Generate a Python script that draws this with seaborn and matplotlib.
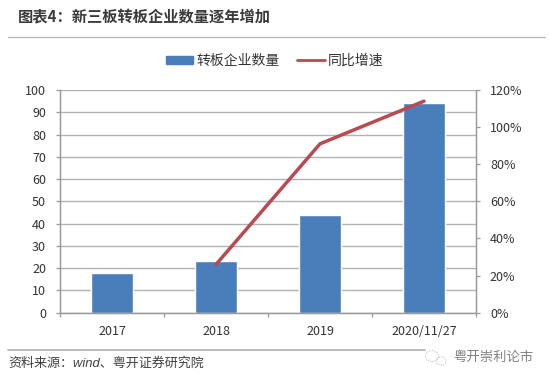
# -*- coding: utf-8 -*-
"""
图表4: bars of transfer counts plus a growth-rate line on a second axis.
"""

import numpy as np
import pandas as pd
import matplotlib.pyplot as plt
from matplotlib.lines import Line2D
from matplotlib.patches import Ellipse, Patch
import seaborn as sns

# ---- data ----
categories = ['2017', '2018', '2019', '2020/11/27']
counts = [18, 23, 44, 94]
growth = [np.nan, 26, 91, 114]
left_ticks = [0, 10, 20, 30, 40, 50, 60, 70, 80, 90, 100]
right_ticks = [0, 20, 40, 60, 80, 100, 120]
right_labels = ['0%', '20%', '40%', '60%', '80%', '100%', '120%']

bar_name = '转板企业数量'
line_name = '同比增速'
title = '图表4\uff1a新三板转板企业数量逐年增加'
source = '资料来源\uff1awind、粤开证券研究院'
watermark = '粤开崇利论市'

# ---- style ----
sns.set_theme(style='white')
plt.rcParams['font.family'] = ['Noto Sans CJK SC', 'DejaVu Sans']
W, H = 550, 381
text_col = '#333333'
grid_col = '#b2b2b2'
spine_col = '#999999'
bar_col = '#4a7ebb'
line_col = '#b84a50'

df = pd.DataFrame({'cat': categories, 'count': counts, 'growth': growth})
df['pos'] = np.arange(len(df))

fig = plt.figure(figsize=(W / 100, H / 100), dpi=100)
ax = fig.add_axes([60 / W, 1 - 312.7 / H, 416 / W, 222.7 / H])

# ---- bars ----
sns.barplot(data=df, x='cat', y='count', color=bar_col, saturation=1,
            width=0.395, ax=ax, zorder=2)
ax.set_xlim(-0.5, 3.5)
ax.set_ylim(0, 100)
ax.set_yticks(left_ticks)
ax.set_xlabel('')
ax.set_ylabel('')
ax.grid(axis='y', color=grid_col, linewidth=1, zorder=0)
ax.set_axisbelow(True)

# ---- line on the right axis ----
ax2 = ax.twinx()
sns.lineplot(data=df, x='pos', y='growth', color=line_col, linewidth=2.5,
             ax=ax2, legend=False, errorbar=None)
ax2.set_ylim(0, 120)
ax2.set_yticks(right_ticks)
ax2.set_yticklabels(right_labels)
ax2.set_ylabel('')
ax2.set_xlabel('')
ax2.grid(False)

for a in (ax, ax2):
    for side, spine in a.spines.items():
        spine.set_color(spine_col)
        spine.set_linewidth(0.9)
    a.spines['top'].set_visible(False)
ax.tick_params(axis='y', length=3, width=0.9, color=spine_col, labelsize=9,
               labelcolor=text_col, pad=7, left=True)
ax2.tick_params(axis='y', length=3, width=0.9, color=spine_col, labelsize=9,
                labelcolor=text_col, pad=7, right=True)
# category separators on the x axis, labels stay centred
ax.set_xticks(np.arange(len(categories) + 1) - 0.5, minor=True)
ax.tick_params(axis='x', which='minor', length=3, width=0.9, color=spine_col,
               bottom=True)
ax.tick_params(axis='x', which='major', length=0, labelsize=9,
               labelcolor=text_col, pad=9)

# ---- legend ----
handles = [Patch(color=bar_col, label=bar_name),
           Line2D([], [], color=line_col, linewidth=2, label=line_name)]
fig.legend(handles=handles, loc='center', bbox_to_anchor=(274.5 / W, 1 - 61 / H),
           ncol=2, frameon=False, fontsize=10, labelcolor=text_col,
           handlelength=2, handleheight=0.58, handletextpad=0.2,
           columnspacing=1.3)

# ---- title, rules, footer ----
fig.text(18 / W, 1 - 17 / H, title, fontsize=11, fontweight='bold',
         color='#3a3a3a', ha='left', va='center')
fig.add_artist(Line2D([8 / W, 545 / W], [1 - 37 / H, 1 - 37 / H],
                      color='#b5b5b5', linewidth=0.9))
fig.add_artist(Line2D([8 / W, 425 / W], [1 - 350 / H, 1 - 350 / H],
                      color='#b5b5b5', linewidth=1.3))
fig.text(8 / W, 1 - 363 / H, source, fontsize=9.4, style='italic',
         family=['Liberation Sans', 'Noto Sans CJK SC'], color='#404040',
         ha='left', va='center')
fig.text(453 / W, 1 - 357 / H, watermark, fontsize=9.6, color='#808080',
         ha='left', va='center')
for cx, cy, ew, eh in [(432, 356, 13, 11), (441, 361, 10, 8)]:
    fig.add_artist(Ellipse((cx / W, 1 - cy / H), ew / W, eh / H, fill=False,
                           edgecolor='#b0b0b0', linewidth=0.7,
                           linestyle=':', transform=fig.transFigure))

fig.savefig('out.png', dpi=100)
